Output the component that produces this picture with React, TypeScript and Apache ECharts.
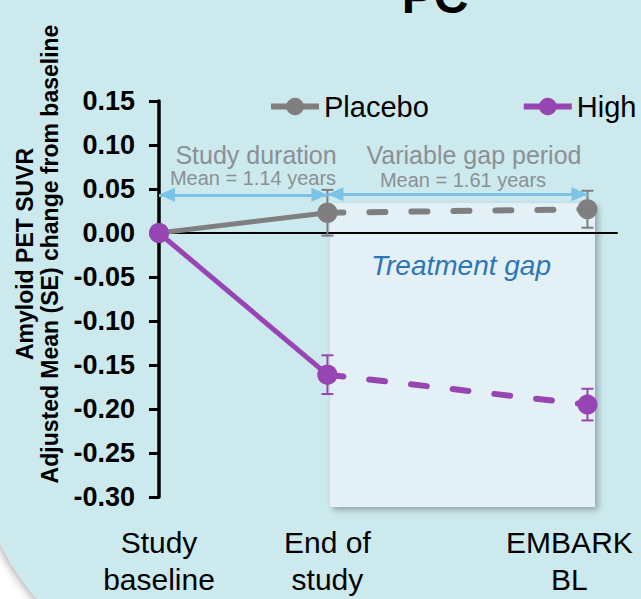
import React, { useEffect, useRef } from "react";
import * as echarts from "echarts";

const categories = ["Study\nbaseline", "End of\nstudy", "EMBARK\nBL"];
const timeYears = [0, 1.14, 2.9];
const placeboMean = [0, 0.023, 0.027];
const placeboSE = [0, 0.026, 0.021];
const highMean = [0, -0.161, -0.195];
const highSE = [0, 0.022, 0.018];
const seriesNames = ["Placebo", "High"];
const yMin = -0.3;
const yMax = 0.15;
const yStep = 0.05;

const FONT = "Liberation Sans, Arial, Helvetica, sans-serif";
const GRAY = "#7f7f7f";
const PURPLE = "#9845b4";
const ARROW = "#7cc3e6";
const NOTE = "#8a9094";

function pts(means: number[], from: number, to: number) {
  const out: number[][] = [];
  for (let i = from; i <= to; i++) out.push([timeYears[i], means[i]]);
  return out;
}
function errs(means: number[], se: number[]) {
  const out: number[][] = [];
  for (let i = 0; i < means.length; i++) {
    if (se[i] > 0) out.push([timeYears[i], means[i] - se[i], means[i] + se[i]]);
  }
  return out;
}

function errorSeries(name: string, color: string, data: number[][]) {
  return {
    name: name + " SE",
    type: "custom",
    xAxisIndex: 0,
    yAxisIndex: 0,
    silent: true,
    data,
    z: 3,
    renderItem: (params: any, api: any) => {
      const x = api.value(0);
      const lo = api.coord([x, api.value(1)]);
      const hi = api.coord([x, api.value(2)]);
      const cap = 6;
      const style = { stroke: color, lineWidth: 2 };
      return {
        type: "group",
        children: [
          { type: "line", shape: { x1: hi[0], y1: hi[1], x2: lo[0], y2: lo[1] }, style },
          { type: "line", shape: { x1: hi[0] - cap, y1: hi[1], x2: hi[0] + cap, y2: hi[1] }, style },
          { type: "line", shape: { x1: lo[0] - cap, y1: lo[1], x2: lo[0] + cap, y2: lo[1] }, style },
        ],
      };
    },
  };
}

function lineSeries(name: string, color: string, data: number[][], dashed: boolean, z: number) {
  return {
    name,
    type: "line",
    xAxisIndex: 0,
    yAxisIndex: 0,
    data,
    z,
    symbol: "circle",
    symbolSize: 20,
    showSymbol: true,
    itemStyle: { color },
    lineStyle: dashed
      ? { color, width: 6, type: [16, 26], cap: "round" }
      : { color, width: 5 },
  };
}

export default function App() {
  const ref = useRef<HTMLDivElement>(null);
  useEffect(() => {
    if (!ref.current) return;
    const chart = echarts.init(ref.current, null, { renderer: "svg" });
    const option: any = {
      animation: false,
      backgroundColor: "#ffffff",
      textStyle: { fontFamily: FONT },
      grid: {
        left: 159,
        top: 101,
        height: 396,
        width: 458,
        containLabel: false,
        outerBoundsMode: "none",
      },
      legend: {
        data: seriesNames,
        left: 268,
        top: 92,
        width: 420,
        padding: 0,
        itemWidth: 48,
        itemHeight: 22,
        itemGap: 92,
        lineStyle: { width: 6 },
        textStyle: { fontSize: 29, color: "#000", fontFamily: FONT },
      },
      xAxis: [
        {
          type: "value",
          min: 0,
          max: 3.1,
          axisLine: { show: true, onZero: true, lineStyle: { color: "#000", width: 2 } },
          axisTick: { show: false },
          axisLabel: { show: false },
          splitLine: { show: false },
        },
        {
          type: "value",
          min: 0,
          max: 3.1,
          position: "bottom",
          axisLine: { show: false, onZero: false },
          axisTick: { show: false },
          splitLine: { show: false },
          axisLabel: {
            customValues: timeYears,
            margin: 27,
            fontSize: 30,
            lineHeight: 37,
            color: "#000",
            fontFamily: FONT,
            formatter: (v: number) => {
              const i = timeYears.indexOf(v);
              if (i < 0) return "";
              const lines = categories[i].split("\n");
              if (i === categories.length - 1) {
                return lines.map((l) => "{r|" + l + "}").join("\n");
              }
              return categories[i];
            },
            rich: {
              r: { fontSize: 30, lineHeight: 37, color: "#000", fontFamily: FONT, padding: [0, 36, 0, 0] },
            },
          },
        },
      ],
      yAxis: {
        type: "value",
        min: yMin,
        max: yMax,
        interval: yStep,
        axisLine: { show: true, onZero: false, lineStyle: { color: "#000", width: 3.5 } },
        axisTick: { show: true, inside: false, length: 10, lineStyle: { color: "#000", width: 3 } },
        splitLine: { show: false },
        axisLabel: {
          margin: 24,
          fontSize: 27,
          fontWeight: "bold",
          color: "#000",
          fontFamily: FONT,
          formatter: (v: number) => v.toFixed(2),
        },
      },
      graphic: [
        {
          type: "rect",
          z: -20,
          silent: true,
          shape: { x: -25, y: -300, width: 1000, height: 984, r: 250 },
          style: {
            fill: "#cce9ed",
            shadowBlur: 10,
            shadowColor: "rgba(0,0,0,0.35)",
            shadowOffsetX: -1,
            shadowOffsetY: 2,
          },
        },
        {
          type: "rect",
          z: -10,
          silent: true,
          shape: { x: 330, y: 203, width: 265, height: 304 },
          style: {
            fill: "#e3f1f7",
            shadowBlur: 6,
            shadowColor: "rgba(0,0,0,0.3)",
            shadowOffsetX: 3,
            shadowOffsetY: 3,
          },
        },
        {
          type: "text",
          z: 10,
          x: 435,
          y: -4,
          style: {
            text: "PC",
            fontSize: 48,
            fontWeight: "bold",
            fontFamily: FONT,
            fill: "#000",
            align: "center",
            verticalAlign: "middle",
          },
        },
        {
          type: "text",
          z: 10,
          x: 37,
          y: 254,
          rotation: Math.PI / 2,
          style: {
            text: "Amyloid PET SUVR\nAdjusted Mean (SE) change from baseline",
            fontSize: 23,
            lineHeight: 25,
            fontWeight: "bold",
            fontFamily: FONT,
            fill: "#000",
            align: "center",
            verticalAlign: "middle",
          },
        },
        {
          type: "text",
          z: 10,
          x: 256,
          y: 155,
          style: { text: "Study duration", fontSize: 25, fontFamily: FONT, fill: NOTE, align: "center", verticalAlign: "middle" },
        },
        {
          type: "text",
          z: 10,
          x: 253,
          y: 178,
          style: { text: "Mean = 1.14 years", fontSize: 20, fontFamily: FONT, fill: NOTE, align: "center", verticalAlign: "middle" },
        },
        {
          type: "text",
          z: 10,
          x: 474,
          y: 155,
          style: { text: "Variable gap period", fontSize: 25, fontFamily: FONT, fill: NOTE, align: "center", verticalAlign: "middle" },
        },
        {
          type: "text",
          z: 10,
          x: 463,
          y: 180,
          style: { text: "Mean = 1.61 years", fontSize: 20, fontFamily: FONT, fill: NOTE, align: "center", verticalAlign: "middle" },
        },
        {
          type: "text",
          z: 10,
          x: 461,
          y: 265,
          style: {
            text: "Treatment gap",
            fontSize: 28,
            fontStyle: "italic",
            fontFamily: FONT,
            fill: "#2e75b6",
            align: "center",
            verticalAlign: "middle",
          },
        },
      ],
      series: [
        errorSeries(seriesNames[0], GRAY, errs(placeboMean, placeboSE)),
        errorSeries(seriesNames[1], PURPLE, errs(highMean, highSE)),
        {
          ...lineSeries(seriesNames[0], GRAY, pts(placeboMean, 0, 1), false, 4),
          markLine: {
            silent: true,
            symbol: ["triangle", "triangle"],
            symbolSize: [14, 16],
            symbolOffset: [[0, 8], [0, 8]],
            label: { show: false },
            lineStyle: { color: ARROW, width: 3, type: "solid" },
            data: [
              [{ coord: [timeYears[0], 0.0434] }, { coord: [timeYears[1], 0.0434] }],
              [{ coord: [timeYears[1], 0.044] }, { coord: [timeYears[2], 0.044] }],
            ],
          },
        },
        lineSeries(seriesNames[0] + " gap", GRAY, pts(placeboMean, 1, 2), true, 4),
        lineSeries(seriesNames[1], PURPLE, pts(highMean, 0, 1), false, 5),
        lineSeries(seriesNames[1] + " gap", PURPLE, pts(highMean, 1, 2), true, 5),
      ],
    };
    chart.setOption(option);
    return () => chart.dispose();
  }, []);
  return <div ref={ref} style={{ position: "fixed", left: 0, top: 0, width: 641, height: 599 }} />;
}
